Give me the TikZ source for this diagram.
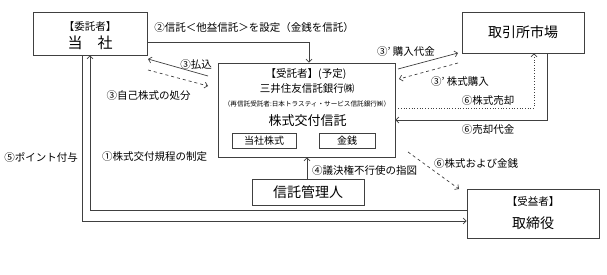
\documentclass[tikz,border=0pt]{standalone}
\usepackage{fontspec}
\setmainfont{Noto Sans CJK JP}
\usetikzlibrary{arrows.meta,positioning}
\tikzset{waku/.style={draw=black!75,line width=0.8pt,align=center,inner sep=0pt,fill=white},
flux/.style={-{Straight Barb[length=3pt,width=6pt]},line width=0.7pt,draw=black!75},
note/.style={font=\fontsize{10.5}{12}\selectfont,inner sep=0pt},
big/.style={font=\fontsize{14}{16}\selectfont,inner sep=0pt}}

\begin{document}
\begin{tikzpicture}[x=1pt,y=-1pt]
\useasboundingbox (0,0) rectangle (607,275);
% boxes
\node[waku,minimum width=114pt,minimum height=43pt] (itaku) at (90,33.5) {};
\node[note] (itakuA) at (90,27) {【委託者】};
\node[big,font=\fontsize{15}{16}\selectfont] (itakuB) at (90,43) {当　社};
\node[waku,minimum width=122pt,minimum height=41pt,font=\fontsize{14}{16}\selectfont] (market) at (523,32.5) {取引所市場};
\node[waku,minimum width=177pt,minimum height=94pt] (trustee) at (306.5,110) {};
\node[note] (trA) at (306,74) {【受託者】(予定)};
\node[note] (trB) at (307,89) {三井住友信託銀行㈱};
\node[inner sep=0pt,font=\fontsize{6.6}{8}\selectfont] (trC) at (307,104) {（再信託受託者:日本トラスティ・サービス信託銀行㈱）};
\node[inner sep=0pt,font=\fontsize{13}{15}\selectfont] (trD) at (307.5,121) {株式交付信託};
\node[waku,minimum width=64pt,minimum height=15pt,font=\fontsize{10}{12}\selectfont] (stock) at (264,140.5) {当社株式};
\node[waku,minimum width=56pt,minimum height=15pt,font=\fontsize{10}{12}\selectfont] (cash) at (347,140.5) {金銭};
\node[waku,minimum width=112pt,minimum height=26pt,font=\fontsize{14}{16}\selectfont] (admin) at (308,192) {信託管理人};
\node[waku,minimum width=132pt,minimum height=49pt] (director) at (533,213.5) {};
\node[note] (dirA) at (533,202) {【受益者】};
\node[big] (dirB) at (533,223) {取締役};
% free ends
\coordinate (payS) at (208,76); \coordinate (payE) at (148,59);
\coordinate (ownS) at (148,70); \coordinate (ownE) at (208,86);
\coordinate (buyS) at (398,69); \coordinate (buyE) at (458,53);
\coordinate (getS) at (458,63); \coordinate (getE) at (399,79);
\coordinate (outS) at (408,152); \coordinate (outE) at (459,189);
% connectors
\draw[flux] (itaku.east |- 0,42) -| ([xshift=2.5pt]trustee.north);
\draw[flux] (payS) -- (payE);
\draw[flux,dashed] (ownS) -- (ownE);
\draw[flux] (buyS) -- (buyE);
\draw[flux,dashed] (getS) -- (getE);
\draw[flux,dotted] (trustee.east |- 0,108) -| ([xshift=11pt]market.south);
\draw[flux] ([xshift=24pt]market.south) |- (trustee.east |- 0,120);
\draw[flux,dashed] (outS) -- (outE);
\draw[flux] (admin.north -| 307,0) -- (trustee.south -| 307,0);
\draw[flux,{Straight Barb[length=3pt,width=6pt]}-] (itaku.south) |- (director.west |- 0,210);
\draw[flux] (itaku.south -| 82,0) |- (director.west |- 0,221);
% labels
\node[note] (l2) at (254,28) {②信託＜他益信託＞を設定（金銭を信託）};
\node[note] (l3a) at (196,65) {③払込};
\node[note] (l3b) at (148.5,96) {③自己株式の処分};
\node[note] (l3c) at (406,52) {③’ 購入代金};
\node[note] (l3d) at (460,82) {③’ 株式購入};
\node[note] (l6a) at (488,101) {⑥株式売却};
\node[note] (l6b) at (488,130) {⑥売却代金};
\node[note] (l6c) at (476,164) {⑥株式および金銭};
\node[note,anchor=west] (l4) at (312,171) {④議決権不行使の指図};
\node[note,anchor=east] (l5) at (78,157) {⑤ポイント付与};
\node[note,anchor=west] (l1) at (102,157) {①株式交付規程の制定};
\end{tikzpicture}
\end{document}
